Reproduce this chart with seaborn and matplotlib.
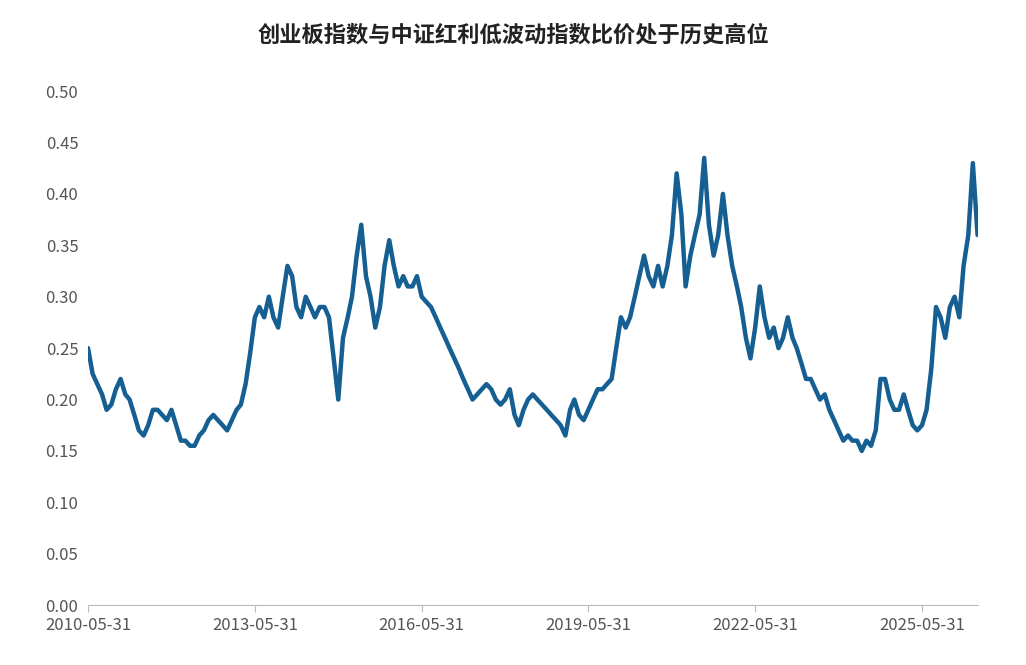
import numpy as np
import pandas as pd
import matplotlib
matplotlib.use('Agg')
import matplotlib.pyplot as plt
import seaborn as sns

sns.set_style('white')
plt.rcParams['font.family'] = ['Noto Sans CJK SC', 'DejaVu Sans']

# monthly ratio, 2010-06 .. 2026-06
ratio = [
    0.25, 0.225, 0.215, 0.205, 0.19, 0.195, 0.21, 0.22, 0.205, 0.20, 0.185, 0.17,
    0.165, 0.175, 0.19, 0.19, 0.185, 0.18, 0.19, 0.175, 0.16, 0.16, 0.155, 0.155,
    0.165, 0.17, 0.18, 0.185, 0.18, 0.175, 0.17, 0.18, 0.19, 0.195, 0.215, 0.245,
    0.28, 0.29, 0.28, 0.30, 0.28, 0.27, 0.30, 0.33, 0.32, 0.29, 0.28, 0.30,
    0.29, 0.28, 0.29, 0.29, 0.28, 0.24, 0.20, 0.26, 0.28, 0.30, 0.34, 0.37,
    0.32, 0.30, 0.27, 0.29, 0.33, 0.355, 0.33, 0.31, 0.32, 0.31, 0.31, 0.32,
    0.30, 0.295, 0.29, 0.28, 0.27, 0.26, 0.25, 0.24, 0.23, 0.22, 0.21, 0.20,
    0.205, 0.21, 0.215, 0.21, 0.20, 0.195, 0.20, 0.21, 0.185, 0.175, 0.19, 0.20,
    0.205, 0.20, 0.195, 0.19, 0.185, 0.18, 0.175, 0.165, 0.19, 0.20, 0.185, 0.18,
    0.19, 0.20, 0.21, 0.21, 0.215, 0.22, 0.25, 0.28, 0.27, 0.28, 0.30, 0.32,
    0.34, 0.32, 0.31, 0.33, 0.31, 0.33, 0.36, 0.42, 0.38, 0.31, 0.34, 0.36,
    0.38, 0.435, 0.37, 0.34, 0.36, 0.40, 0.36, 0.33, 0.31, 0.29, 0.26, 0.24,
    0.27, 0.31, 0.28, 0.26, 0.27, 0.25, 0.26, 0.28, 0.26, 0.25, 0.235, 0.22,
    0.22, 0.21, 0.20, 0.205, 0.19, 0.18, 0.17, 0.16, 0.165, 0.16, 0.16, 0.15,
    0.16, 0.155, 0.17, 0.22, 0.22, 0.20, 0.19, 0.19, 0.205, 0.19, 0.175, 0.17,
    0.175, 0.19, 0.23, 0.29, 0.28, 0.26, 0.29, 0.30, 0.28, 0.33, 0.36, 0.43,
    0.36,
]
dates = pd.date_range('2010-05-31', periods=len(ratio), freq='ME')
df = pd.DataFrame({'date': dates, 'ratio': ratio})

tick_labels = ['2010-05-31', '2013-05-31', '2016-05-31', '2019-05-31', '2022-05-31', '2025-05-31']

fig = plt.figure(figsize=(10.26, 6.65), dpi=100)
ax = fig.add_axes([0.0858, 0.090, 0.867, 0.773])
sns.lineplot(data=df, x='date', y='ratio', color='#165f92', linewidth=3.2, ax=ax)

ax.set_xlim(pd.Timestamp('2010-05-31'), df['date'].iloc[-1])
ax.set_ylim(0, 0.5)
ax.set_yticks(np.arange(0, 0.51, 0.05))
ax.set_yticklabels([f'{v:.2f}' for v in np.arange(0, 0.51, 0.05)])
ax.set_xticks(pd.to_datetime(tick_labels))
ax.set_xticklabels(tick_labels)
ax.tick_params(axis='both', labelsize=12, colors='#555555')
ax.tick_params(axis='x', length=5, color='#bbbbbb', bottom=True)
ax.set_xlabel('')
ax.set_ylabel('')
for s in ['top', 'right', 'left']:
    ax.spines[s].set_visible(False)
ax.spines['bottom'].set_color('#bbbbbb')

fig.suptitle('创业板指数与中证红利低波动指数比价处于历史高位', y=0.965,
             fontsize=16, fontweight='bold', color='#222222')
fig.savefig('out.png', dpi=100)
